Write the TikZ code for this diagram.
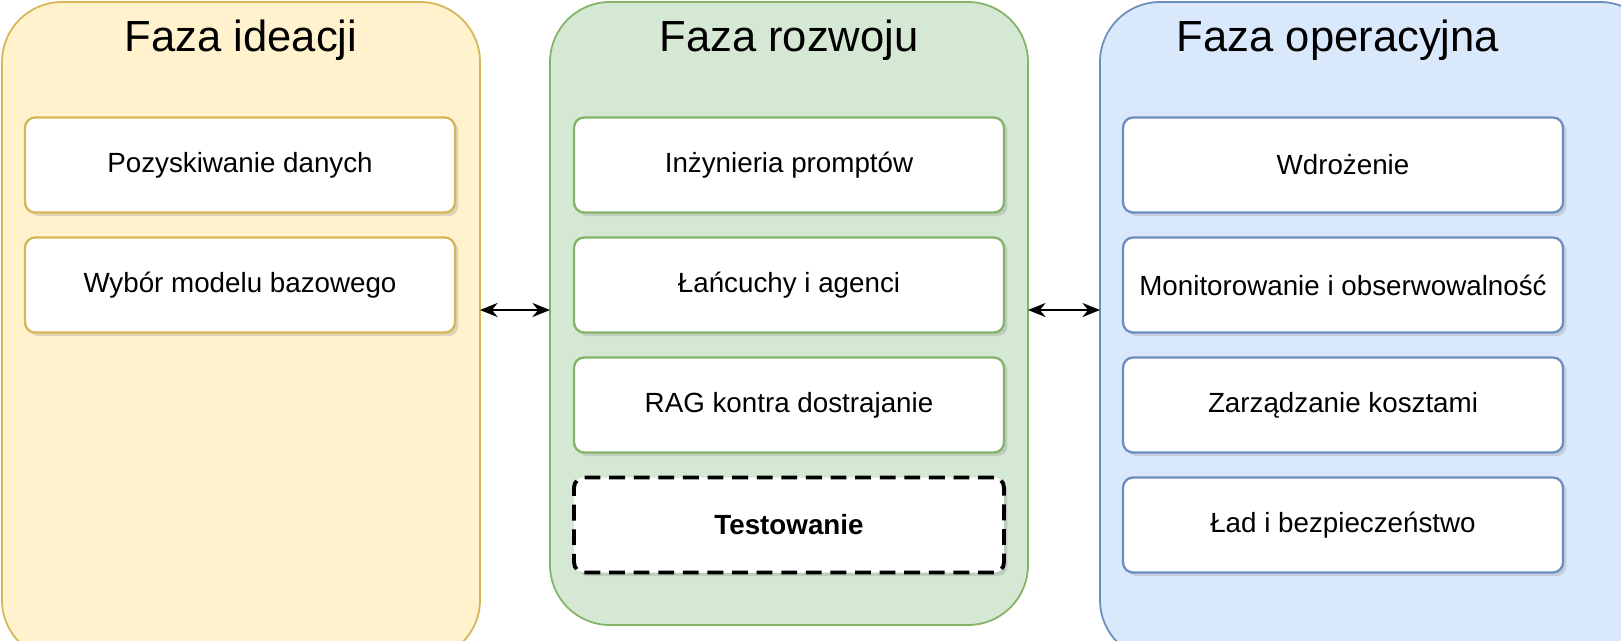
\documentclass[tikz,border=0pt]{standalone}
\usepackage{fontspec}
\setmainfont{Liberation Sans}
\usetikzlibrary{shadows,arrows.meta}
\definecolor{yfill}{HTML}{FFF2CC}\definecolor{ydraw}{HTML}{D6B656}
\definecolor{gfill}{HTML}{D5E8D4}\definecolor{gdraw}{HTML}{82B366}
\definecolor{bfill}{HTML}{DAE8FC}\definecolor{bdraw}{HTML}{6C8EBF}
\begin{document}
\begin{tikzpicture}[x=0.02cm,y=-0.02cm,
 panel/.style={draw=#1,line width=1pt,rounded corners=1.2cm},
 box/.style={draw=#1,fill=white,line width=1.3pt,rounded corners=0.2cm,minimum width=8.6cm,minimum height=1.9cm,font=\fontsize{15.8}{18}\selectfont,drop shadow={opacity=0.25,shadow xshift=2pt,shadow yshift=-2pt}},
 title/.style={font=\fontsize{24.8}{28}\selectfont},
 arr/.style={{Stealth[length=10pt,width=8pt]}-{Stealth[length=10pt,width=8pt]},line width=1.3pt}]
\useasboundingbox (0,0) rectangle (1621,640);
\fill[white] (0,0) rectangle (1621,640);
\draw[panel=ydraw,fill=yfill] (2,2) rectangle (480,660);
\draw[panel=gdraw,fill=gfill] (550,2) rectangle (1028,625);
\draw[panel=bdraw,fill=bfill] (1100,2) rectangle (1660,660);
\node[title] (t1) at (241,40) {Faza ideacji};
\node[title] (t2) at (789,40) {Faza rozwoju};
\node[title] (t3) at (1338,40) {Faza operacyjna};
\node[box=ydraw] (a1) at (240,165) {Pozyskiwanie danych};
\node[box=ydraw] (a2) at (240,285) {Wybór modelu bazowego};
\node[box=gdraw] (b1) at (789,165) {Inżynieria promptów};
\node[box=gdraw] (b2) at (789,285) {Łańcuchy i agenci};
\node[box=gdraw] (b3) at (789,405) {RAG kontra dostrajanie};
\node[box=black,dash pattern=on 9pt off 5pt,line width=2.2pt,font=\fontsize{15.8}{18}\selectfont\bfseries] (b4) at (789,525) {Testowanie};
\node[box=bdraw,minimum width=8.8cm] (c1) at (1343,165) {Wdrożenie};
\node[box=bdraw,minimum width=8.8cm] (c2) at (1343,285) {Monitorowanie i obserwowalność};
\node[box=bdraw,minimum width=8.8cm] (c3) at (1343,405) {Zarządzanie kosztami};
\node[box=bdraw,minimum width=8.8cm] (c4) at (1343,525) {Ład i bezpieczeństwo};
\coordinate (p1) at (480,310); \coordinate (p2) at (550,310);
\coordinate (p3) at (1028,310); \coordinate (p4) at (1100,310);
\draw[arr] (p1) -- (p2);
\draw[arr] (p3) -- (p4);
\end{tikzpicture}
\end{document}
